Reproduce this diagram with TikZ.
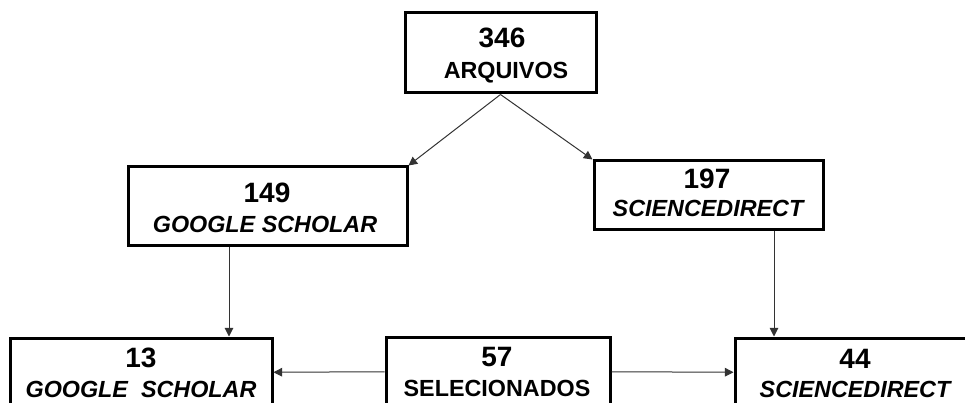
\documentclass[tikz,border=0pt]{standalone}
\usepackage{fontspec}
\setmainfont{Liberation Sans}
\usetikzlibrary{arrows.meta,fit}

\tikzset{
    caixa/.style={draw, line width=2.25pt, inner sep=0pt},
    numero/.style={anchor=base, inner sep=0pt, font=\bfseries\fontsize{21}{24}\selectfont},
    rotulo/.style={anchor=base, inner sep=0pt, font=\bfseries\fontsize{17.5}{20}\selectfont},
    fonte/.style={rotulo, font=\bfseries\itshape\fontsize{17.5}{20}\selectfont},
    seta/.style={-{Triangle[length=6.5pt,width=6.5pt]}, line width=0.75pt, draw=black!80}
}

\begin{document}
\begin{tikzpicture}[x=0.75pt,y=-0.75pt]

    \useasboundingbox (0,0) rectangle (965,403);
    \clip (0,0) rectangle (965,403);

    %draw boxes:
    \node[caixa, fit={(405,13) (596,93)}] (arq) {};
    \node[caixa, fit={(128,167) (407,245)}] (gs) {};
    \node[caixa, fit={(594,161) (823,229)}] (sd) {};
    \node[caixa, fit={(10,338) (272,406.5)}] (gs2) {};
    \node[caixa, fit={(386,337) (610,406.5)}] (sel) {};
    \node[caixa, fit={(735,338) (975,406.5)}] (sd2) {};

    %texts:
    \node[numero] (arqn) at (502,48) {346};
    \node[rotulo] (arqt) at (506,79) {ARQUIVOS};
    \node[numero] (gsn) at (267,202) {149};
    \node[fonte] (gst) at (265,233) {GOOGLE SCHOLAR};
    \node[numero] (sdn) at (707,188) {197};
    \node[fonte] (sdt) at (708,216) {SCIENCEDIRECT};
    \node[numero] (gs2n) at (141,367) {13};
    \node[fonte] (gs2t) at (141,397) {GOOGLE~~SCHOLAR};
    \node[numero] (seln) at (497,366) {57};
    \node[rotulo] (selt) at (497,396) {SELECIONADOS};
    \node[numero] (sd2n) at (855,368) {44};
    \node[fonte] (sd2t) at (855,397) {SCIENCEDIRECT};

    %draw arrows:
    \draw[seta] (arq.south) -- (gs.north east);
    \draw[seta] (arq.south) -- (sd.north west);
    \draw[seta] (gs.south -| 229,0) -- (gs2.north -| 229,0);
    \draw[seta] (sd.south -| 774,0) -- (sd2.north -| 774,0);
    \draw[seta] (sel.west) -- (gs2.east);
    \draw[seta] (sel.east) -- (sd2.west);

\end{tikzpicture}
\end{document}
